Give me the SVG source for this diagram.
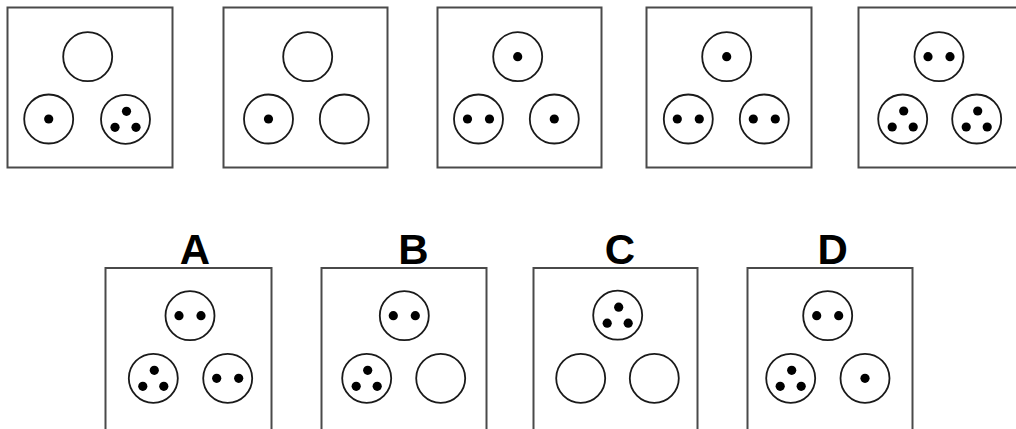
<svg xmlns="http://www.w3.org/2000/svg" xmlns:xlink="http://www.w3.org/1999/xlink" width="1016" height="429" viewBox="0 0 1016 429">
<style>
.box{fill:#fff;stroke:#4a4a4a;stroke-width:2}
.ring{fill:#fff;stroke:#1a1a1a;stroke-width:1.8}
.dot{fill:#000}
.lbl{font-family:"Liberation Sans",Arial,sans-serif;font-weight:bold;font-size:42px;fill:#000;text-anchor:middle}
</style>
<defs>
<g id="s0"><circle class="ring" r="24.5"/></g>
<g id="s1"><circle class="ring" r="24.5"/><circle class="dot" r="4.6"/></g>
<g id="s2"><circle class="ring" r="24.5"/><circle class="dot" cx="-11" r="4.6"/><circle class="dot" cx="11" r="4.6"/></g>
<g id="s3"><circle class="ring" r="24.5"/><circle class="dot" cx="1" cy="-8" r="4.6"/><circle class="dot" cx="-10.5" cy="8" r="4.6"/><circle class="dot" cx="10.5" cy="8" r="4.6"/></g>
</defs>
<g id="fig1">
<rect class="box" x="7.5" y="7.5" width="165" height="160"/>
<use xlink:href="#s0" x="87.7" y="56.7"/>
<use xlink:href="#s1" x="48.7" y="119"/>
<use xlink:href="#s3" x="125.5" y="119.3"/>
</g>
<g id="fig2">
<rect class="box" x="223.5" y="7.5" width="164" height="160"/>
<use xlink:href="#s0" x="307.7" y="56.7"/>
<use xlink:href="#s1" x="268.5" y="119"/>
<use xlink:href="#s0" x="344.3" y="119"/>
</g>
<g id="fig3">
<rect class="box" x="437.5" y="7.5" width="164" height="160"/>
<use xlink:href="#s1" x="517.7" y="56.7"/>
<use xlink:href="#s2" x="478.5" y="119"/>
<use xlink:href="#s1" x="554.3" y="119"/>
</g>
<g id="fig4">
<rect class="box" x="646.5" y="7.5" width="165" height="160"/>
<use xlink:href="#s1" x="726.7" y="56.7"/>
<use xlink:href="#s2" x="688.3" y="119"/>
<use xlink:href="#s2" x="764.3" y="119"/>
</g>
<g id="fig5">
<rect class="box" x="858.5" y="7.5" width="165" height="160"/>
<use xlink:href="#s2" x="939" y="56.7"/>
<use xlink:href="#s3" x="902.7" y="119"/>
<use xlink:href="#s3" x="976.7" y="119"/>
</g>
<g id="optA">
<text class="lbl" x="195" y="264">A</text>
<rect class="box" x="105.5" y="268" width="166" height="170"/>
<use xlink:href="#s2" x="190" y="315.7"/>
<use xlink:href="#s3" x="153.3" y="378.3"/>
<use xlink:href="#s2" x="227.7" y="378.3"/>
</g>
<g id="optB">
<text class="lbl" x="413.5" y="264">B</text>
<rect class="box" x="321.5" y="268" width="165" height="170"/>
<use xlink:href="#s2" x="404.3" y="315.7"/>
<use xlink:href="#s3" x="366.7" y="378.3"/>
<use xlink:href="#s0" x="440.7" y="378.3"/>
</g>
<g id="optC">
<text class="lbl" x="620" y="264">C</text>
<rect class="box" x="533.5" y="268" width="164" height="170"/>
<use xlink:href="#s3" x="617.7" y="315.2"/>
<use xlink:href="#s0" x="580.7" y="378.3"/>
<use xlink:href="#s0" x="654.3" y="378.3"/>
</g>
<g id="optD">
<text class="lbl" x="832.7" y="264">D</text>
<rect class="box" x="747.5" y="268" width="165" height="170"/>
<use xlink:href="#s2" x="827.7" y="315.7"/>
<use xlink:href="#s3" x="790.7" y="378.3"/>
<use xlink:href="#s1" x="865" y="378.3"/>
</g>
<g id="connectors"/>
</svg>
